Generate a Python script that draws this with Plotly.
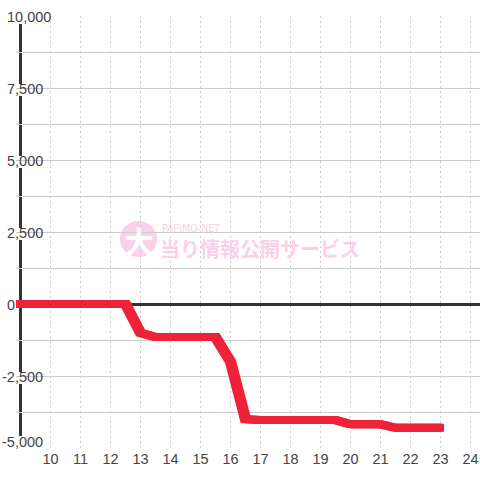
import plotly.graph_objects as go

hours = [8.9, 12.5, 13, 13.5, 15.5, 16, 16.5, 17, 19.5, 20, 21, 21.5, 23.06]
values = [0, 0, -1000, -1150, -1150, -2000, -4000, -4030, -4030, -4175, -4175, -4300, -4300]
x_ticks = list(range(10, 25))
y_major = [10000, 7500, 5000, 2500, 0, -2500, -5000]
y_labels = ["10,000", "7,500", "5,000", "2,500", "0", "-2,500", "-5,000"]
y_grid = [10000, 8750, 7500, 6250, 5000, 3750, 2500, 1250, 0, -1250, -2500, -3750, -5000]

FONT = "Liberation Sans"
TXT = "#444444"
PINK = "#fcd0e8"


def px_x(p):
    return 10 + (p - 50.5) / 30


def px_y(p):
    return (304 - p) / 0.0288


X0 = px_x(16)

fig = go.Figure()
# the reference line is stretched horizontally, so its steep parts are wider than its flat parts
for dx in (-0.057, 0.057, 0):
    fig.add_trace(go.Scatter(x=[h + dx for h in hours], y=values, mode="lines", cliponaxis=False,
                             line=dict(color="#ee2238", width=8), hoverinfo="skip", showlegend=False))

annots = []
shapes = [
    dict(type="circle", xref="x", yref="y", x0=px_x(120), x1=px_x(157), y0=px_y(257), y1=px_y(221),
         fillcolor=PINK, line_width=0, layer="below"),
    # blank strip left of the y axis, then the axis line, interrupted by the label boxes below
    dict(type="rect", xref="x", yref="paper", x0=X0, x1=px_x(19), y0=0, y1=1,
         fillcolor="white", line_width=0, layer="below"),
    dict(type="rect", xref="x", yref="paper", x0=px_x(19), x1=px_x(22), y0=0, y1=1,
         fillcolor="#333333", line_width=0, layer="below"),
]
for v, t in zip(y_major, y_labels):
    neg = t.startswith("-")
    low = v == -5000
    annots.append(dict(xref="paper", yref="y", x=0, y=v, text=t, showarrow=False,
                       xanchor="left", yanchor="middle", xshift=-14 if neg else -9.5,
                       yshift=6 if low else -1, borderpad=0, borderwidth=0,
                       font=dict(family=FONT, size=14.5, color=TXT)))
    if v == 0:
        continue
    right = 37 if t == "10,000" else 29
    if low:
        right = 30
    shapes.append(dict(type="rect", xref="x", yref="y", layer="below", line_width=0, fillcolor="white",
                       xsizemode="pixel", xanchor=X0, x0=0, x1=right,
                       ysizemode="pixel", yanchor=v, y0=0 if low else -8, y1=12 if low else 4))
annots += [
    dict(xref="x", yref="y", x=px_x(162), y=px_y(227.5), text="PAPIMO-NET", showarrow=False, xanchor="left",
         font=dict(family="DejaVu Sans Condensed", size=10.5, color=PINK), borderwidth=0, borderpad=0),
    dict(xref="x", yref="y", x=px_x(160), y=px_y(248), text="<b>当り情報公開サービス</b>", showarrow=False, xanchor="left",
         font=dict(family="Noto Sans CJK JP", size=20, color=PINK), borderwidth=0, borderpad=0),
    dict(xref="x", yref="y", x=px_x(138.5), y=px_y(240), text="<b>大</b>", showarrow=False,
         font=dict(family="Noto Sans CJK JP", size=30, color="white"), borderwidth=0, borderpad=0),
]

fig.update_layout(
    width=480, height=480, paper_bgcolor="white", plot_bgcolor="white",
    margin=dict(l=16, r=0, t=16, b=32), showlegend=False, annotations=annots, shapes=shapes,
    xaxis=dict(range=[X0, 24.317], tickvals=x_ticks, ticktext=[str(t) for t in x_ticks],
               showgrid=True, gridcolor="#cccccc", griddash="2px,3px", gridwidth=1,
               zeroline=False, showline=False, ticks="", ticklen=0, layer="below traces",
               tickfont=dict(family=FONT, size=14.5, color=TXT)),
    yaxis=dict(range=[-5000, 10000], tickvals=y_grid, showticklabels=False,
               showgrid=True, gridcolor="#cccccc", gridwidth=1, layer="below traces",
               zeroline=True, zerolinecolor="#333333", zerolinewidth=3,
               showline=False, ticks=""),
)
fig.write_html("out.html", post_script="document.body.style.margin='0';window.dispatchEvent(new Event('resize'));",
               config=dict(displayModeBar=False))
